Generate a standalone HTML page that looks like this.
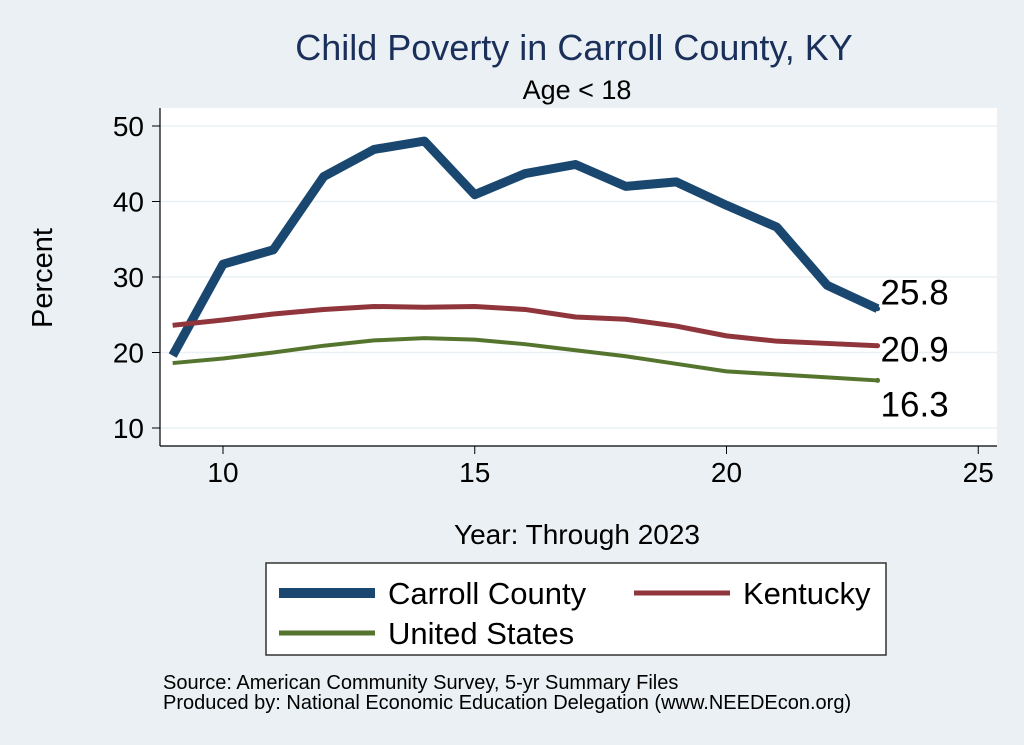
<!DOCTYPE html>
<html><head><meta charset="utf-8"><style>
body{margin:0;background:#eaf0f3;}
svg{display:block;font-family:"Liberation Sans",Arial,sans-serif;}
</style></head><body>
<svg id="c" width="1024" height="745">
<rect x="0" y="0" width="1024" height="745" fill="#eaf0f3"/>
<rect x="160" y="108" width="837" height="338" fill="#fff"/>
<text x="574" y="60" font-size="36" fill="#1a2f5a" text-anchor="middle">Child Poverty in Carroll County, KY</text>
<text x="577" y="99" font-size="27" text-anchor="middle">Age &lt; 18</text>
<text transform="translate(52,278) rotate(-90)" font-size="29" text-anchor="middle">Percent</text>
<text x="577" y="544" font-size="28" text-anchor="middle">Year: Through 2023</text>
<g id="grid"></g><g id="axes"></g><g id="lines"></g>
<g>
<rect x="266" y="563" width="620" height="92" fill="#fff" stroke="#333" stroke-width="1.5"/>
<line x1="279" y1="593" x2="375" y2="593" stroke="#1a476f" stroke-width="10"/>
<text x="388" y="604" font-size="31">Carroll County</text>
<line x1="634" y1="593" x2="730" y2="593" stroke="#90353b" stroke-width="5"/>
<text x="743" y="604" font-size="31">Kentucky</text>
<line x1="279" y1="633" x2="375" y2="633" stroke="#55752f" stroke-width="5"/>
<text x="388" y="644" font-size="31">United States</text>
</g>
<text x="163" y="689" font-size="20">Source: American Community Survey, 5-yr Summary Files</text>
<text x="163" y="709" font-size="20">Produced by: National Economic Education Delegation (www.NEEDEcon.org)</text>
</svg>
<script>
const years=[9,10,11,12,13,14,15,16,17,18,19,20,21,22,23];
const carroll=[19.6,31.7,33.6,43.3,46.9,48.0,40.9,43.7,44.9,42.0,42.6,39.5,36.6,28.9,25.8];
const kentucky=[23.6,24.3,25.1,25.7,26.1,26.0,26.1,25.7,24.7,24.4,23.5,22.2,21.5,21.2,20.9];
const usa=[18.6,19.2,20.0,20.9,21.6,21.9,21.7,21.1,20.3,19.5,18.5,17.5,17.1,16.7,16.3];
const xTicks=[10,15,20,25];
const yTicks=[10,20,30,40,50];
const NS="http://www.w3.org/2000/svg";
const X=v=>223+(v-10)*50.35, Y=v=>428-(v-10)*7.55;
function mk(t,a,p){const e=document.createElementNS(NS,t);for(const k in a)e.setAttribute(k,a[k]);p.appendChild(e);return e;}
const grid=document.getElementById('grid'),axes=document.getElementById('axes'),lines=document.getElementById('lines');
mk('line',{x1:160,y1:446,x2:997,y2:446,stroke:'#000','stroke-width':1.2},axes);
mk('line',{x1:160,y1:108,x2:160,y2:446,stroke:'#000','stroke-width':1.2},axes);
yTicks.forEach(v=>{
 const g=mk('line',{x1:160,x2:997,y1:Y(v),y2:Y(v),stroke:'#eaf0f3','stroke-width':1.5},grid);
 
 mk('line',{x1:152,x2:160,y1:Y(v),y2:Y(v),stroke:'#000'},axes);
 const t=mk('text',{x:144,y:Y(v)+10,'font-size':28,'text-anchor':'end'},axes);t.textContent=v;
 
});
xTicks.forEach(v=>{
 mk('line',{x1:X(v),x2:X(v),y1:446,y2:454,stroke:'#000'},axes);
 const t=mk('text',{x:X(v),y:482,'font-size':28,'text-anchor':'middle'},axes);t.textContent=v;
 
});
function series(d,col,w,name,ly){
 const p=mk('polyline',{points:years.map((y,i)=>X(y)+','+Y(d[i])).join(' '),fill:'none',stroke:col,'stroke-width':w,'stroke-linejoin':'round'},lines);
 
 const n=d.length-1;
 mk('circle',{cx:X(years[n]),cy:Y(d[n]),r:2.5,fill:col},lines);
 const t=mk('text',{x:X(years[n])+3,y:Y(d[n])+ly,'font-size':35},lines);t.textContent=d[n].toFixed(1);
 
}
series(carroll,'#1a476f',9,'carroll',-4);
series(kentucky,'#90353b',5,'kentucky',16);
series(usa,'#55752f',4,'us',36);
</script>
</body></html>
